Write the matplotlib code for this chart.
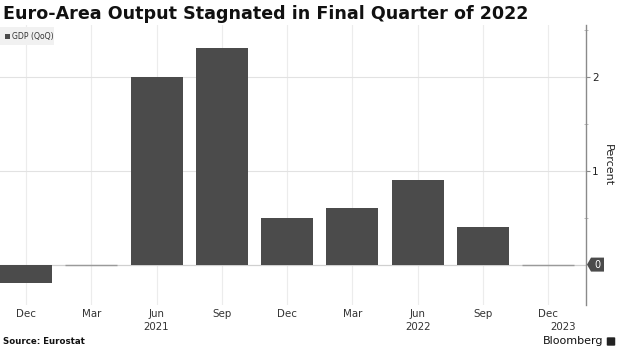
import matplotlib
matplotlib.use("Agg")
import matplotlib.pyplot as plt
from matplotlib.patches import Polygon, Rectangle, FancyBboxPatch
from matplotlib.transforms import blended_transform_factory
import numpy as np

# Quarterly euro-area GDP growth, quarter on quarter (%)
quarters = ["Dec", "Mar", "Jun", "Sep", "Dec", "Mar", "Jun", "Sep", "Dec"]
year_labels = {2: "2021", 6: "2022", 8: "2023"}
gdp_qoq = [-0.2, 0.0, 2.0, 2.3, 0.5, 0.6, 0.9, 0.4, 0.0]
y_ticks = [0, 1, 2]

W, H = 620, 348
fig = plt.figure(figsize=(W / 100, H / 100), dpi=100)
fig.patch.set_facecolor("white")

ax_left, ax_right, ax_top, ax_bottom = 0, 586, 25, 305
ax = fig.add_axes([ax_left / W, 1 - ax_bottom / H,
                   (ax_right - ax_left) / W, (ax_bottom - ax_top) / H])

bar_color = "#4b4b4b"
x = np.arange(len(gdp_qoq))

# vertical grid through each quarter
for xi in x:
    ax.axvline(xi, color="#ececec", lw=0.8, zorder=0)
# horizontal grid
for t in y_ticks[1:]:
    ax.axhline(t, color="#e2e2e2", lw=0.8, zorder=0)
ax.axhline(0, color="#d0d0d0", lw=0.9, zorder=1)

edge_colors = ["#9a9a9a" if v == 0 else "none" for v in gdp_qoq]
edge_widths = [1.0 if v == 0 else 0 for v in gdp_qoq]
ax.bar(x, gdp_qoq, width=0.8, color=bar_color, edgecolor=edge_colors,
       linewidth=edge_widths, zorder=2)

ax.set_xlim(-0.4, 8.58)
ax.set_ylim(-0.43, 2.55)

for s in ["left", "top", "bottom"]:
    ax.spines[s].set_visible(False)
ax.spines["right"].set_color("#8a8a8a")
ax.spines["right"].set_linewidth(1.0)

ax.set_xticks([])
ax.yaxis.tick_right()
ax.set_yticks(y_ticks[1:])
ax.set_yticklabels([str(t) for t in y_ticks[1:]])
ax.set_yticks([0.5, 1.5, 2.5], minor=True)
ax.tick_params(axis="y", which="major", length=3, width=0.8, color="#8a8a8a",
               pad=1.5, labelsize=7.5, labelcolor="#222222")
ax.tick_params(axis="y", which="minor", length=2.5, width=0.6, color="#b0b0b0",
               direction="inout")

ax.yaxis.set_label_position("right")
ax.set_ylabel("Percent", rotation=270, fontsize=8, color="#222222", labelpad=10)

# month and year labels below the plot
tx = blended_transform_factory(ax.transData, ax.transAxes)
span = ax_bottom - ax_top
for i, q in enumerate(quarters):
    ax.text(i, -(314 - ax_bottom) / span, q, transform=tx, ha="center",
            va="center", fontsize=7.4, color="#333333", clip_on=False)
for i, yl in year_labels.items():
    dx = 0.23 if i == len(quarters) - 1 else 0
    ax.text(i + dx, -(327 - ax_bottom) / span, yl, transform=tx,
            ha="center", va="center", fontsize=7.4, color="#333333", clip_on=False)

# zero tag on the value axis
ftx = blended_transform_factory(fig.transFigure, ax.transData)
half = 7 / 94
tag = Polygon([[587 / W, 0], [591 / W, half], [604 / W, half],
               [604 / W, -half], [591 / W, -half]],
              closed=True, transform=ftx, facecolor="#4b4b4b",
              edgecolor="none", clip_on=False, zorder=5)
fig.add_artist(tag)
fig.text(597.5 / W, 0, "0", transform=ftx, ha="center", va="center",
         fontsize=7, color="white", zorder=6)

# legend
fig.add_artist(Rectangle((0, 1 - 45 / H), 54 / W, 18 / H, transform=fig.transFigure,
                         facecolor="#f1f1f1", edgecolor="none", zorder=3))
fig.add_artist(Rectangle((5 / W, 1 - 39 / H), 5 / W, 5 / H, transform=fig.transFigure,
                         facecolor=bar_color, edgecolor="none", zorder=4))
fig.text(12 / W, 1 - 36 / H, "GDP (QoQ)", fontsize=5.6, color="#333333",
         ha="left", va="center", zorder=4)

fig.text(3 / W, 1 - 14 / H, "Euro-Area Output Stagnated in Final Quarter of 2022",
         fontsize=12.6, fontweight="bold", color="#111111", ha="left", va="center")
fig.text(3 / W, 1 - 341 / H, "Source: Eurostat", fontsize=6.2, fontweight="bold",
         color="#111111", ha="left", va="center")
fig.text(603 / W, 1 - 341 / H, "Bloomberg", fontsize=8, color="#111111",
         ha="right", va="center")
fig.add_artist(FancyBboxPatch((608 / W, 1 - 345 / H), 6 / W, 7 / H,
                              boxstyle="round,pad=0.002", transform=fig.transFigure,
                              facecolor="#222222", edgecolor="none"))

fig.savefig("out.png", dpi=100, facecolor="white")
